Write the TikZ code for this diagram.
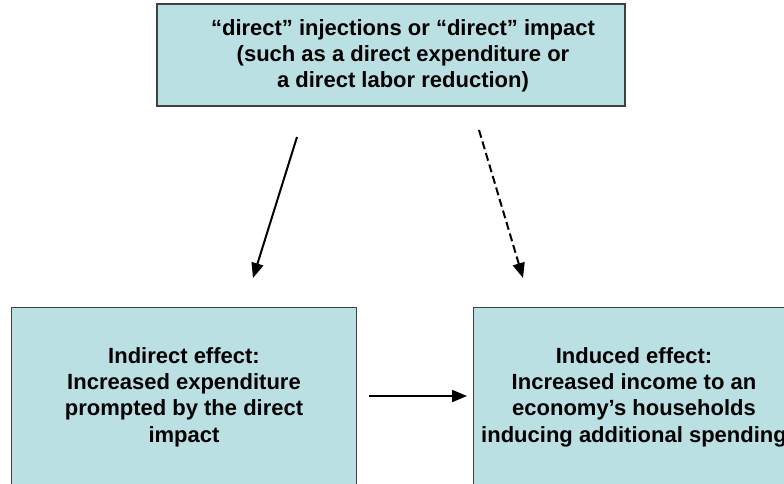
\documentclass[tikz,border=0pt]{standalone}
\usepackage{fontspec}
\setmainfont{Liberation Sans}
\usetikzlibrary{arrows.meta}
\definecolor{boxfill}{HTML}{BBE0E3}
\definecolor{boxline}{HTML}{404040}
\begin{document}
\begin{tikzpicture}[x=1pt,y=-1pt,
  box/.style={draw=boxline,line width=1.3pt,fill=boxfill,rectangle,inner sep=0pt},
  txt/.style={align=center,font=\bfseries\fontsize{22}{26.3}\selectfont,inner sep=0pt},
  arr/.style={line width=2pt,-{Triangle[length=15pt,width=12pt]}}]
\useasboundingbox (0,0) rectangle (784,483);
\clip (0,0) rectangle (784,483);
\node[box,minimum width=468pt,minimum height=102pt] (top) at (391,55) {};
\node[txt] (toptxt) at (403,56) {“direct” injections or “direct” impact\\(such as a direct expenditure or\\a direct labor reduction)};
\node[box,minimum width=345pt,minimum height=200pt,anchor=north west] (left) at (11,307) {};
\node[txt] (lefttxt) at (184,397) {Indirect effect:\\Increased expenditure\\prompted by the direct\\impact};
\node[box,minimum width=330pt,minimum height=200pt,anchor=north west] (right) at (473,307) {};
\node[txt] (righttxt) at (634,397) {Induced effect:\\Increased income to an\\economy’s households\\inducing additional spending};
\coordinate (s1) at (297,137);
\coordinate (e1) at (253,278);
\coordinate (s2) at (479,130);
\coordinate (e2) at (523,278);
\coordinate (s3) at (369,396);
\coordinate (e3) at (467,396);
\draw[arr] (s1) -- (e1);
\draw[arr,dash pattern=on 8pt off 4pt] (s2) -- (e2);
\draw[arr] (s3) -- (e3);
\end{tikzpicture}
\end{document}
